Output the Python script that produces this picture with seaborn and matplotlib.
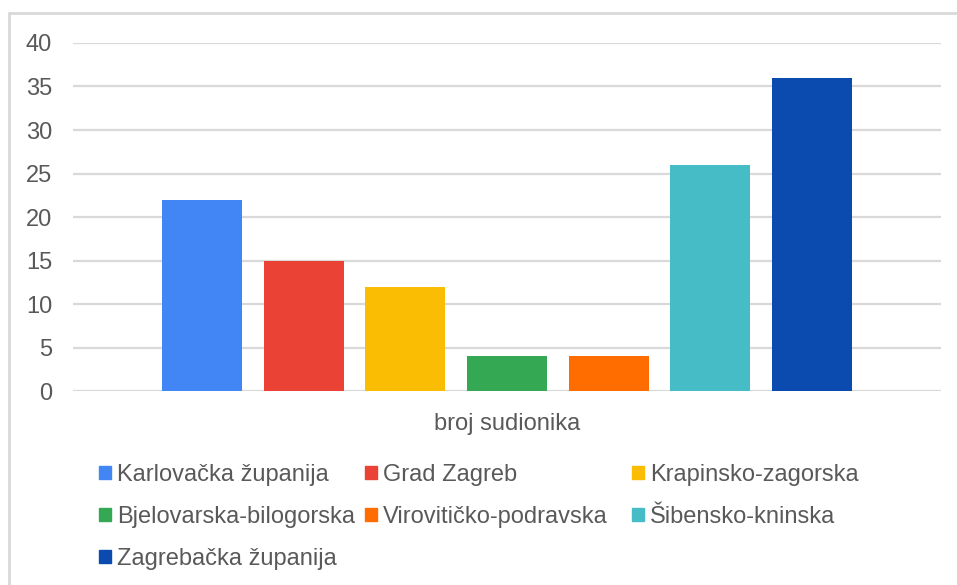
import matplotlib
matplotlib.use("Agg")
import matplotlib.pyplot as plt
from matplotlib.lines import Line2D
import seaborn as sns
import pandas as pd

# podaci
kategorija = ["broj sudionika"]
zupanije = ["Karlovačka županija", "Grad Zagreb", "Krapinsko-zagorska",
            "Bjelovarska-bilogorska", "Virovitičko-podravska", "Šibensko-kninska",
            "Zagrebačka županija"]
broj = [22, 15, 12, 4, 4, 26, 36]
boje = ["#4285F4", "#EA4335", "#FBBC04", "#34A853", "#FF6D01", "#46BDC6", "#0B4BB0"]
y_ticks = [0, 5, 10, 15, 20, 25, 30, 35, 40]

df = pd.DataFrame({"kategorija": kategorija * len(zupanije),
                   "zupanija": zupanije,
                   "broj": broj})

sns.set_style("white")
plt.rcParams["font.family"] = ["Liberation Sans", "DejaVu Sans"]
tekst = "#595959"
fs = 17

fig = plt.figure(figsize=(9.57, 5.85), dpi=100)
ax = fig.add_axes([0.0763, 0.3316, 0.907, 0.5949])

sns.barplot(data=df, x="kategorija", y="broj", hue="zupanija",
            palette=boje, width=0.82, gap=0.213, ax=ax, legend=False,
            saturation=1, edgecolor="none")

ax.set_ylim(0, 40)
ax.set_xlim(-0.5, 0.5)
ax.set_yticks(y_ticks)
ax.yaxis.grid(True, color="#d9d9d9", linewidth=1.6)
ax.set_axisbelow(True)
sns.despine(ax=ax, left=True, bottom=True)
ax.tick_params(axis="both", length=0, labelsize=fs, labelcolor=tekst)
ax.tick_params(axis="y", pad=15)
ax.tick_params(axis="x", pad=16)
ax.set_xlabel("")
ax.set_ylabel("")

# legenda: tri stupca, redovi kao u izvorniku
handles = [plt.Rectangle((0, 0), 1, 1, color=c) for c in boje]
stupci = [[0, 3, 6], [1, 4], [2, 5]]
x_stupaca = [99, 365, 632]
for idx, x0 in zip(stupci, x_stupaca):
    fig.legend([handles[i] for i in idx], [zupanije[i] for i in idx],
               ncol=1, loc="upper left", bbox_to_anchor=(x0 / 957, 1 - 464 / 585),
               frameon=False, fontsize=fs, labelcolor=tekst,
               handlelength=0.5, handleheight=0.5, handletextpad=0.25,
               labelspacing=0.85, borderpad=0, borderaxespad=0)

# okvir (gornji i lijevi rub)
fig.add_artist(Line2D([8.5 / 957, 8.5 / 957], [0, 1 - 13 / 585],
                      transform=fig.transFigure, color="#d9d9d9", linewidth=2))
fig.add_artist(Line2D([8.5 / 957, 1], [1 - 13 / 585, 1 - 13 / 585],
                      transform=fig.transFigure, color="#d9d9d9", linewidth=2))

fig.savefig("out.png", dpi=100)
